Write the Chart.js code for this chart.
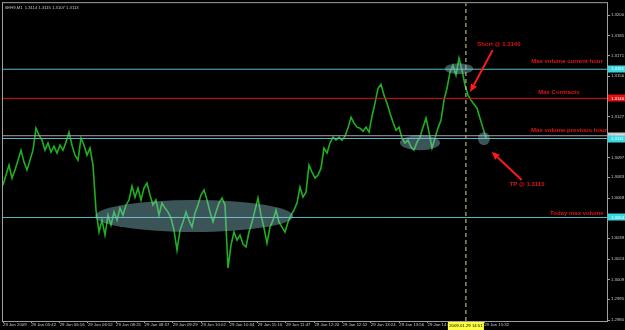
<!DOCTYPE html>
<html>
<head>
<meta charset="utf-8">
<title>6EH9,M1</title>
<script src="https://cdn.jsdelivr.net/npm/chart.js@4.4.1/dist/chart.umd.min.js"></script>
<style>
  html, body { margin: 0; padding: 0; background: #000; }
  #wrap { width: 625px; height: 330px; }
</style>
</head>
<body>
<div id="wrap"><canvas id="chart" width="625" height="330"></canvas></div>
<script>
// close prices, one per bar
const closes = [
  1.30774, 1.30846, 1.30918, 1.30824, 1.30882, 1.30954, 1.31026, 1.30940, 1.30882, 1.30954,
  1.31026, 1.31185, 1.31134, 1.31098, 1.31026, 1.31077, 1.31012, 1.31055, 1.31005, 1.31062,
  1.31026, 1.31084, 1.31156, 1.31062, 1.30990, 1.30954, 1.31113, 1.31062, 1.30990, 1.31041,
  1.30918, 1.30593, 1.30435, 1.30521, 1.30413, 1.30557, 1.30485, 1.30579, 1.30521, 1.30608,
  1.30557, 1.30630, 1.30666, 1.30767, 1.30687, 1.30752, 1.30666, 1.30752, 1.30788, 1.30702,
  1.30630, 1.30666, 1.30557, 1.30644, 1.30608, 1.30579, 1.30536, 1.30449, 1.30305, 1.30449,
  1.30507, 1.30579, 1.30521, 1.30471, 1.30572, 1.30630, 1.30702, 1.30738, 1.30666, 1.30579,
  1.30507, 1.30579, 1.30644, 1.30680, 1.30630, 1.30175, 1.30341, 1.30435, 1.30377, 1.30413,
  1.30348, 1.30327, 1.30435, 1.30507, 1.30593, 1.30680, 1.30557, 1.30464, 1.30355, 1.30471,
  1.30521, 1.30593, 1.30507, 1.30471, 1.30435, 1.30507, 1.30557, 1.30593, 1.30644, 1.30759,
  1.30687, 1.30723, 1.30918, 1.30868, 1.30824, 1.30846, 1.30896, 1.31041, 1.31005, 1.31077,
  1.31120, 1.31098, 1.31120, 1.31098, 1.31127, 1.31185, 1.31264, 1.31221, 1.31192, 1.31185,
  1.31163, 1.31192, 1.31156, 1.31271, 1.31365, 1.31473, 1.31502, 1.31423, 1.31365, 1.31293,
  1.31228, 1.31170, 1.31192, 1.31113, 1.31077, 1.31098, 1.31048, 1.31026, 1.31084, 1.31120,
  1.31192, 1.31257, 1.31156, 1.31041, 1.31113, 1.31185, 1.31243, 1.31387, 1.31473, 1.31589,
  1.31639, 1.31567, 1.31690, 1.31603, 1.31495, 1.31423, 1.31387, 1.31358, 1.31329, 1.31257,
  1.31185, 1.31113
];

// time axis: bar index of each label and its text
const timeTicks = [0, 9.4, 18.9, 28.3, 37.7, 47.2, 56.6, 66, 75.5, 84.9, 94.3, 103.8, 113.2, 122.6, 132.1, 141.5, 150.9, 160.4];
const timeLabels = ['29 Jan 2009', '29 Jan 05:42', '29 Jan 06:16', '29 Jan 06:52', '29 Jan 08:25', '29 Jan 08:57',
  '29 Jan 09:29', '29 Jan 10:02', '29 Jan 10:34', '29 Jan 11:10', '29 Jan 11:47', '29 Jan 12:20',
  '29 Jan 12:52', '29 Jan 13:24', '29 Jan 13:56', '29 Jan 14:28', '29 Jan 15:00', '29 Jan 15:32'];

// price axis
const priceTicks = [1.3200, 1.3185, 1.3171, 1.3156, 1.3141, 1.3127, 1.3112, 1.3097, 1.3083, 1.3068,
  1.3053, 1.3039, 1.3024, 1.3009, 1.2995, 1.2980];
const priceMin = 1.29793, priceMax = 1.32087;
const barMax = 201.33;

// horizontal lines (current hour, contracts, previous hour x2, today)
const levelPrices = [1.3161, 1.3140, 1.3113, 1.3111, 1.3054];
const levelKinds = ['cyan', 'red', 'gray', 'cyan', 'cyan'];

// vertical cursor + its date box
const cursorBar = 154.3;
const cursorLabel = '2009.01.29 14:51';

// shaded zones: [bar from, bar to, price top, price bottom]
const zones = [
  [30.7, 96.7, 1.30666, 1.30435],
  [132.3, 145.7, 1.31134, 1.31026],
  [147.3, 156.7, 1.31654, 1.31574],
  [158.3, 162.3, 1.31156, 1.31062]
];

// arrows: [bar from, price from, bar to, price to]
const arrows = [
  [163.2, 1.31748, 155.7, 1.31445],
  [172.9, 1.30810, 162.9, 1.31014]
];

// red notes
const noteTexts = ['Short @ 1.3140', 'Max volume current hour', 'Max Contracts', 'Max volume previous hour', 'TP @ 1.3110', 'Today max volume'];
const noteBars = [165.3, 188.0, 185.3, 188.7, 174.7, 191.3];
const notePrices = [1.31791, 1.31668, 1.31445, 1.31170, 1.30781, 1.30572];

const headerText = '6EH9,M1  1.3114 1.3115 1.3107 1.3113';

const colors = { cyan: '#5ab8c4', red: '#dd1111', gray: '#a8a0b0' };
const boxColors = { cyan: '#38d8e0', red: '#e01010', gray: '#c8c8d0' };
const smallFont = '"Liberation Sans", Arial, sans-serif';

Chart.defaults.font.family = smallFont;

const mtDecor = {
  id: 'mtDecor',
  beforeDraw(chart) {
    const c = chart.ctx;
    c.save();
    c.fillStyle = '#000';
    c.fillRect(0, 0, chart.width, chart.height);
    c.restore();
  },
  afterDatasetsDraw(chart) {
    const c = chart.ctx, xs = chart.scales.x, ys = chart.scales.y, a = chart.chartArea;
    c.save();
    c.beginPath();
    c.rect(a.left, a.top, a.right - a.left, a.bottom - a.top);
    c.clip();

    // zones
    c.fillStyle = 'rgba(140,200,210,0.42)';
    zones.forEach(([b1, b2, p1, p2]) => {
      const l = xs.getPixelForValue(b1), r = xs.getPixelForValue(b2);
      const t = ys.getPixelForValue(p1), b = ys.getPixelForValue(p2);
      c.beginPath();
      c.ellipse((l + r) / 2, (t + b) / 2, (r - l) / 2, (b - t) / 2, 0, 0, Math.PI * 2);
      c.fill();
    });

    // arrows
    c.strokeStyle = '#ff1a1a';
    c.fillStyle = '#ff1a1a';
    c.lineWidth = 2;
    arrows.forEach(([b1, p1, b2, p2]) => {
      const x1 = xs.getPixelForValue(b1), y1 = ys.getPixelForValue(p1);
      const x2 = xs.getPixelForValue(b2), y2 = ys.getPixelForValue(p2);
      const ang = Math.atan2(y2 - y1, x2 - x1);
      const hl = 8, hw = 3.5;
      const bx = x2 - hl * Math.cos(ang), by = y2 - hl * Math.sin(ang);
      c.beginPath();
      c.moveTo(x1, y1);
      c.lineTo(bx, by);
      c.stroke();
      c.beginPath();
      c.moveTo(x2, y2);
      c.lineTo(bx + hw * Math.sin(ang), by - hw * Math.cos(ang));
      c.lineTo(bx - hw * Math.sin(ang), by + hw * Math.cos(ang));
      c.closePath();
      c.fill();
    });

    // notes
    c.font = 'bold 6px "Liberation Sans", Arial, sans-serif';
    c.fillStyle = '#e01414';
    c.textAlign = 'center';
    c.textBaseline = 'middle';
    noteTexts.forEach((t, i) => {
      c.fillText(t, xs.getPixelForValue(noteBars[i]), ys.getPixelForValue(notePrices[i]));
    });
    c.restore();
  },
  afterDraw(chart) {
    const c = chart.ctx, ys = chart.scales.y, xs = chart.scales.x, a = chart.chartArea;
    c.save();
    // frame
    c.strokeStyle = '#a0a0a0';
    c.lineWidth = 1;
    c.strokeRect(a.left - 0.5, a.top - 0.5, a.right - a.left + 1, a.bottom - a.top + 1);

    // header
    c.font = '4.2px ' + smallFont;
    c.fillStyle = '#c8c8c8';
    c.textAlign = 'left';
    c.textBaseline = 'top';
    c.fillText(headerText, a.left + 2, a.top + 3);

    // price boxes for the levels
    c.textBaseline = 'middle';
    c.font = '4.3px ' + smallFont;
    levelPrices.forEach((p, i) => {
      const y = ys.getPixelForValue(p);
      c.fillStyle = boxColors[levelKinds[i]];
      c.fillRect(a.right + 1, Math.round(y) - 3.5, chart.width - a.right - 1, 7);
      c.fillStyle = '#ffffff';
      c.fillText(p.toFixed(4), a.right + 4, y);
    });

    // cursor date box
    const cx = xs.getPixelForValue(cursorBar);
    c.fillStyle = '#ffff40';
    c.fillRect(cx - 18, a.bottom + 1, 36, 8);
    c.fillStyle = '#000';
    c.textAlign = 'center';
    c.fillText(cursorLabel, cx, a.bottom + 5);
    c.restore();
  }
};

const levelSets = levelPrices.map((p, i) => ({
  data: [{ x: 0, y: p }, { x: barMax, y: p }],
  borderColor: colors[levelKinds[i]],
  borderWidth: 1,
  pointRadius: 0,
  order: 1
}));

new Chart(document.getElementById('chart'), {
  type: 'line',
  data: {
    datasets: [
      {
        data: closes.map((p, i) => ({ x: i, y: p })),
        borderColor: '#1fb01f',
        borderWidth: 1.6,
        pointRadius: 0,
        tension: 0,
        order: 3
      },
      {
        data: [{ x: cursorBar, y: priceMin }, { x: cursorBar, y: priceMax }],
        borderColor: '#d8d890',
        borderWidth: 1,
        borderDash: [4, 3],
        pointRadius: 0,
        order: 2
      },
      ...levelSets
    ]
  },
  options: {
    responsive: false,
    animation: false,
    devicePixelRatio: 1,
    layout: { padding: { left: 3, top: 3, right: 0, bottom: 0 } },
    plugins: { legend: { display: false }, tooltip: { enabled: false } },
    scales: {
      x: {
        type: 'linear',
        min: 0,
        max: barMax,
        grid: { display: true, drawOnChartArea: false, drawTicks: true, tickLength: 2, color: '#a0a0a0' },
        border: { display: false },
        ticks: {
          autoSkip: false, maxRotation: 0, minRotation: 0, align: 'start', padding: 0,
          color: '#c8c8c8', font: { size: 4.3, lineHeight: 1 },
          callback: (v, i) => timeLabels[i]
        },
        afterBuildTicks: s => { s.ticks = timeTicks.map(v => ({ value: v })); },
        afterFit: s => { s.height = 9; }
      },
      y: {
        position: 'right',
        min: priceMin,
        max: priceMax,
        grid: { display: true, drawOnChartArea: false, drawTicks: true, tickLength: 3, color: '#a0a0a0' },
        border: { display: false },
        ticks: {
          padding: 1, color: '#c8c8c8', font: { size: 4.3, lineHeight: 1 },
          callback: v => v.toFixed(4)
        },
        afterBuildTicks: s => { s.ticks = priceTicks.map(v => ({ value: v })); },
        afterFit: s => { s.width = 18; }
      }
    }
  },
  plugins: [mtDecor]
});
</script>
</body>
</html>
